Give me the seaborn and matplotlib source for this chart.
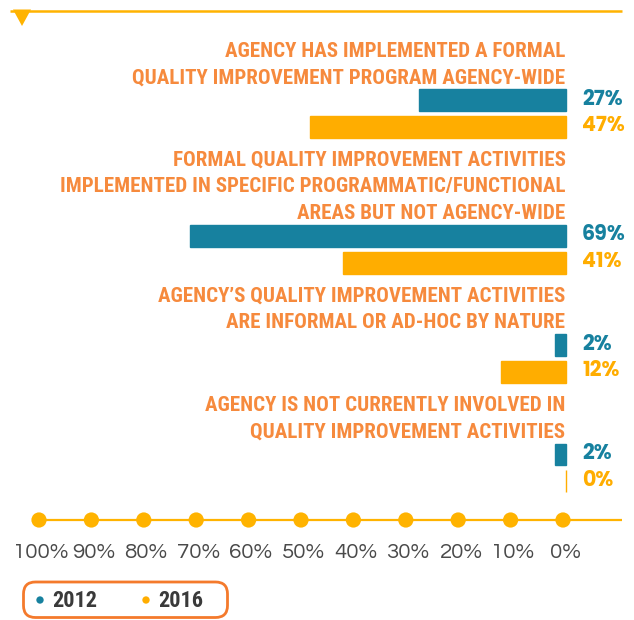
import numpy as np
import pandas as pd
import matplotlib
matplotlib.use("Agg")
import matplotlib.pyplot as plt
from matplotlib import font_manager as fm
from matplotlib.patches import FancyBboxPatch, Polygon
import seaborn as sns

# ---- data ----
categories = [
    ["AGENCY HAS IMPLEMENTED A FORMAL",
     "QUALITY IMPROVEMENT PROGRAM AGENCY-WIDE"],
    ["FORMAL QUALITY IMPROVEMENT ACTIVITIES",
     "IMPLEMENTED IN SPECIFIC PROGRAMMATIC/FUNCTIONAL",
     "AREAS BUT NOT AGENCY-WIDE"],
    ["AGENCY\u2019S QUALITY IMPROVEMENT ACTIVITIES",
     "ARE INFORMAL OR AD-HOC BY NATURE"],
    ["AGENCY IS NOT CURRENTLY INVOLVED IN",
     "QUALITY IMPROVEMENT ACTIVITIES"],
]
years = ["2012", "2016"]
values_2012 = [27, 69, 2, 2]
values_2016 = [47, 41, 12, 0]
scale_ticks = [100, 90, 80, 70, 60, 50, 40, 30, 20, 10, 0]
scale_labels = [f"{t}%" for t in scale_ticks]

# ---- style ----
TEAL = "#17819F"
GOLD = "#FFAD00"
ORANGE = "#F68A3D"
LINE = "#FFB300"
GREY = "#4A4A4A"
palette = {"2012": TEAL, "2016": GOLD}

_installed = {f.name for f in fm.fontManager.ttflist}


def pick(*cands):
    found = [c for c in cands if c in _installed][:1]
    return found + ["DejaVu Sans"]


NARROW = pick("Roboto Condensed", "Archivo Narrow", "Barlow Condensed",
              "Liberation Sans Narrow")
GEOMETRIC = pick("Questrial", "Didact Gothic", "URW Gothic", "Poppins")
GEOMETRIC_BOLD = pick("Poppins", "Jost", "League Spartan", "Montserrat")

sns.set_theme(style="white")
plt.rcParams["font.family"] = ["DejaVu Sans"]

W, H, DPI = 634, 620, 100
fig = plt.figure(figsize=(W / DPI, H / DPI), dpi=DPI)

# layout in pixel units (y grows downward)
LINE_STEP = 26.6
BAR_PITCH = 26.8
zero_px = 566
px_per_pct = 5.45

line_pos, bar_pos = [], []
y = 48.8
for lines in categories:
    ys = []
    for _ in lines:
        ys.append(y)
        y += LINE_STEP
    line_pos.append(ys)
    b1 = ys[-1] + 24.8
    bar_pos.append((b1 + b1 + BAR_PITCH) / 2)
    y = b1 + BAR_PITCH + 31.0

df = pd.DataFrame({
    "pos": bar_pos * 2,
    "value": values_2012 + values_2016,
    "year": [years[0]] * 4 + [years[1]] * 4,
})

# ---- bars ----
ax = fig.add_axes([0, 0, 1, 1])
min_gap = np.min(np.diff(sorted(bar_pos)))
sns.barplot(data=df, x="value", y="pos", hue="year", hue_order=years,
            palette=palette, orient="h", native_scale=True,
            width=2 * BAR_PITCH / min_gap, gap=1 - 21.7 / BAR_PITCH,
            saturation=1, errorbar=None, legend=False, ax=ax)
for p in ax.patches:
    p.set_edgecolor(p.get_facecolor())
    p.set_linewidth(1.0)
ax.set_xlim(zero_px / px_per_pct, -(W - zero_px) / px_per_pct)
ax.set_ylim(H, 0)
ax.axis("off")

# category labels, right-aligned at the zero line
for lines, ys in zip(categories, line_pos):
    for txt, ly in zip(lines, ys):
        ax.text(0.1, ly + 7.8, txt, ha="right", va="baseline",
                fontsize=15.1, fontweight="bold", color=ORANGE,
                family=NARROW)

# value labels
for i, c in enumerate(bar_pos):
    for v, dy, col in ((values_2012[i], -BAR_PITCH / 2, TEAL),
                       (values_2016[i], BAR_PITCH / 2, GOLD)):
        ax.annotate(f"{v}%", xy=(0, c + dy), xytext=(11.5, 0.5),
                    textcoords="offset points", ha="left", va="center",
                    fontsize=14.8, fontweight="bold", color=col,
                    family=GEOMETRIC_BOLD)

# ---- percentage scale at the bottom ----
ax2 = fig.add_axes([0, 0, 1, 1])
ax2.patch.set_alpha(0)
s0, s100 = 563, 39
spp = (s0 - s100) / 100
ax2.set_xlim(s0 / spp, -(W - s0) / spp)
ax2.set_ylim(H, 0)
scale_y = 520
ax2.hlines(scale_y, max(scale_ticks), -(622 - s0) / spp, color=LINE, lw=1.6, zorder=1)
sns.scatterplot(x=scale_ticks, y=[scale_y] * len(scale_ticks), color=LINE,
                s=120, edgecolor="none", ax=ax2, zorder=2)
for t, lab in zip(scale_ticks, scale_labels):
    ax2.text(t - 0.4, 553, lab, ha="center", va="center", fontsize=16,
             color=GREY, family=GEOMETRIC)
ax2.axis("off")

# ---- decoration: top rule, marker, legend ----
deco = fig.add_axes([0, 0, 1, 1])
deco.patch.set_alpha(0)
deco.set_xlim(0, W)
deco.set_ylim(H, 0)
deco.axis("off")
deco.plot([10, 622], [10.5, 10.5], color=LINE, lw=1.8, solid_capstyle="butt")
deco.add_patch(Polygon([[13, 9.5], [31, 9.5], [22, 26]], closed=True,
                       facecolor=LINE, edgecolor="none"))

deco.add_patch(FancyBboxPatch((23.5, 582), 204, 35.5,
                              boxstyle="round,pad=0,rounding_size=12",
                              facecolor="white", edgecolor="#F47A2C", lw=2.0))
for x_dot, x_txt, yr in ((40, 52, years[0]), (146, 158, years[1])):
    deco.scatter([x_dot], [600], s=28, color=palette[yr], edgecolor="none")
    deco.text(x_txt, 601, yr, ha="left", va="center", fontsize=16,
              fontweight="bold", color="#3A3A3A", family=NARROW)

fig.savefig("out.png", dpi=DPI)
